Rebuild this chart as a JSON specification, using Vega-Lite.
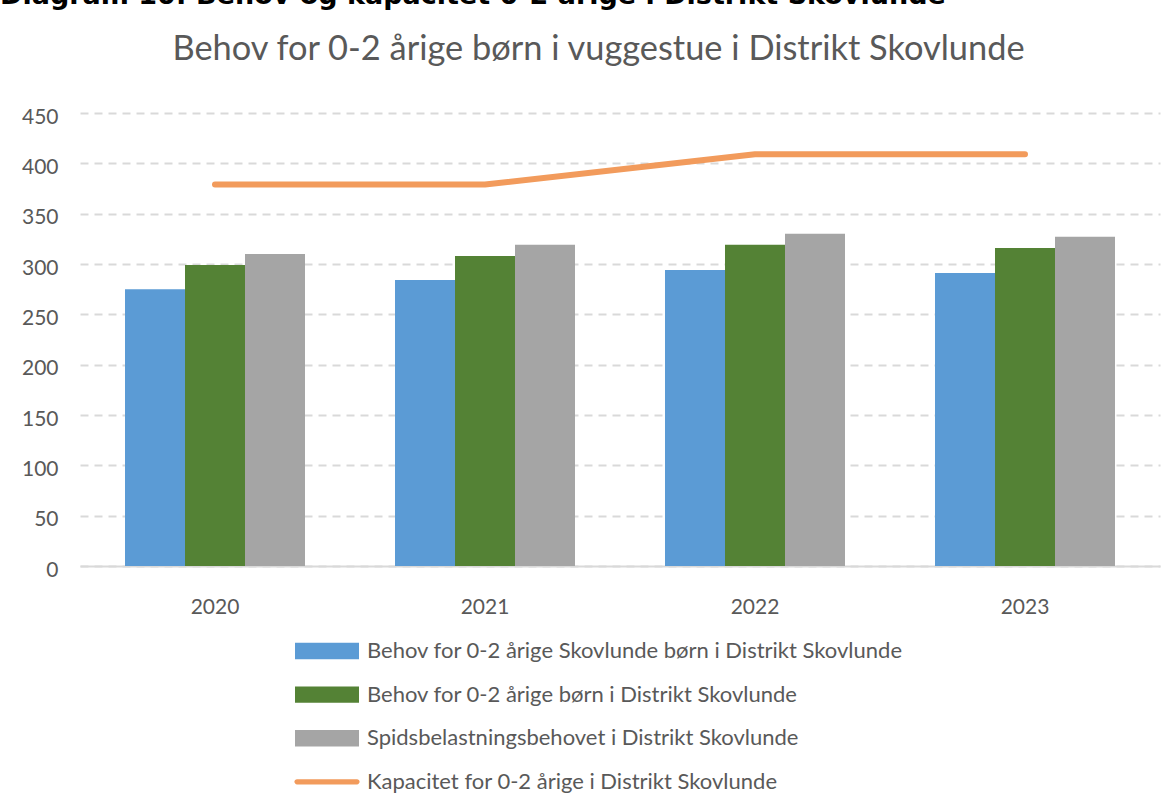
{
  "$schema": "https://vega.github.io/schema/vega-lite/v6.json",
  "width": 1080,
  "height": 453,
  "autosize": {"type": "none"},
  "padding": {"left": 80, "top": 113, "right": 16, "bottom": 242},
  "background": "white",
  "title": {
    "text": "Diagram 10: Behov og kapacitet 0-2 årige i Distrikt Skovlunde",
    "font": "DejaVu Sans",
    "fontSize": 27,
    "fontWeight": "bold",
    "color": "#000000",
    "anchor": "start",
    "frame": "group",
    "baseline": "alphabetic",
    "dx": -80,
    "offset": 0
  },
  "config": {
    "view": {"stroke": null},
    "font": "Lato"
  },
  "datasets": {
    "bars": [
      {"year": "2020", "serie": "Behov for 0-2 årige Skovlunde børn i Distrikt Skovlunde", "value": 275},
      {"year": "2020", "serie": "Behov for 0-2 årige børn i Distrikt Skovlunde", "value": 299},
      {"year": "2020", "serie": "Spidsbelastningsbehovet i Distrikt Skovlunde", "value": 310},
      {"year": "2021", "serie": "Behov for 0-2 årige Skovlunde børn i Distrikt Skovlunde", "value": 284},
      {"year": "2021", "serie": "Behov for 0-2 årige børn i Distrikt Skovlunde", "value": 308},
      {"year": "2021", "serie": "Spidsbelastningsbehovet i Distrikt Skovlunde", "value": 319},
      {"year": "2022", "serie": "Behov for 0-2 årige Skovlunde børn i Distrikt Skovlunde", "value": 294},
      {"year": "2022", "serie": "Behov for 0-2 årige børn i Distrikt Skovlunde", "value": 319},
      {"year": "2022", "serie": "Spidsbelastningsbehovet i Distrikt Skovlunde", "value": 330},
      {"year": "2023", "serie": "Behov for 0-2 årige Skovlunde børn i Distrikt Skovlunde", "value": 291},
      {"year": "2023", "serie": "Behov for 0-2 årige børn i Distrikt Skovlunde", "value": 316},
      {"year": "2023", "serie": "Spidsbelastningsbehovet i Distrikt Skovlunde", "value": 327}
    ],
    "kap": [
      {"year": "2020", "serie": "Kapacitet for 0-2 årige i Distrikt Skovlunde", "value": 379},
      {"year": "2021", "serie": "Kapacitet for 0-2 årige i Distrikt Skovlunde", "value": 379},
      {"year": "2022", "serie": "Kapacitet for 0-2 årige i Distrikt Skovlunde", "value": 409},
      {"year": "2023", "serie": "Kapacitet for 0-2 årige i Distrikt Skovlunde", "value": 409}
    ]
  },
  "layer": [
    {
      "data": {"name": "bars"},
      "mark": {"type": "bar"},
      "encoding": {
        "x": {
          "field": "year",
          "type": "nominal",
          "scale": {"paddingInner": 0.33333, "paddingOuter": 0.16667},
          "axis": {
            "title": null,
            "labelAngle": 0,
            "ticks": false,
            "grid": false,
            "domain": true,
            "domainColor": "#D9D9D9",
            "domainWidth": 2,
            "labelFont": "Lato",
            "labelFontSize": 21,
            "labelColor": "#595959",
            "labelPadding": 30
          }
        },
        "xOffset": {
          "field": "serie",
          "type": "nominal",
          "sort": [
            "Behov for 0-2 årige Skovlunde børn i Distrikt Skovlunde",
            "Behov for 0-2 årige børn i Distrikt Skovlunde",
            "Spidsbelastningsbehovet i Distrikt Skovlunde"
          ],
          "scale": {"paddingInner": 0, "paddingOuter": 0}
        },
        "y": {
          "field": "value",
          "type": "quantitative",
          "scale": {"domain": [0, 450], "nice": false},
          "axis": {
            "values": [0, 50, 100, 150, 200, 250, 300, 350, 400, 450],
            "domain": false,
            "ticks": false,
            "grid": true,
            "gridColor": "#D9D9D9",
            "gridDash": [8, 6],
            "gridWidth": 2,
            "labelFont": "Lato",
            "labelFontSize": 21,
            "labelColor": "#595959",
            "labelPadding": 22,
            "labelOffset": 4,
            "title": "Behov for 0-2 årige børn i vuggestue i Distrikt Skovlunde",
            "titleAngle": 0,
            "titleX": 518,
            "titleY": -54,
            "titleAlign": "center",
            "titleBaseline": "alphabetic",
            "titleFont": "Lato",
            "titleFontWeight": "normal",
            "titleFontSize": 34.4,
            "titleColor": "#595959",
            "titleLimit": 0
          }
        },
        "color": {
          "field": "serie",
          "type": "nominal",
          "scale": {
            "domain": [
              "Behov for 0-2 årige Skovlunde børn i Distrikt Skovlunde",
              "Behov for 0-2 årige børn i Distrikt Skovlunde",
              "Spidsbelastningsbehovet i Distrikt Skovlunde",
              "Kapacitet for 0-2 årige i Distrikt Skovlunde"
            ],
            "range": ["#5B9BD5", "#548235", "#A5A5A5", "#F29B5C"]
          },
          "legend": {
            "orient": "none",
            "legendX": 236,
            "legendY": 527,
            "direction": "vertical",
            "title": null,
            "labelFont": "Lato",
            "labelFontSize": 22,
            "labelColor": "#595959",
            "labelLimit": 0,
            "labelOffset": 29,
            "rowPadding": 21.6,
            "symbolSize": 400,
            "symbolType": "M-3.2,-0.82L3.2,-0.82L3.2,0.82L-3.2,0.82Z",
            "encode": {
              "symbols": {
                "update": {
                  "shape": {"signal": "datum.value == 'Kapacitet for 0-2 årige i Distrikt Skovlunde' ? 'M-3.0,-0.26L3.0,-0.26A0.26,0.26 0 0 1 3.0,0.26L-3.0,0.26A0.26,0.26 0 0 1 -3.0,-0.26Z' : 'M-3.2,-0.82L3.2,-0.82L3.2,0.82L-3.2,0.82Z'"},
                  "fill": {"scale": "color", "field": "value"},
                  "strokeWidth": {"value": 0},
                  "opacity": {"value": 1},
                  "fillOpacity": {"value": 1}
                }
              }
            }
          }
        }
      }
    },
    {
      "data": {"name": "kap"},
      "mark": {"type": "line", "strokeWidth": 6, "strokeCap": "round", "strokeJoin": "round"},
      "encoding": {
        "x": {"field": "year", "type": "nominal"},
        "y": {"field": "value", "type": "quantitative"},
        "color": {"field": "serie", "type": "nominal"}
      }
    }
  ]
}
